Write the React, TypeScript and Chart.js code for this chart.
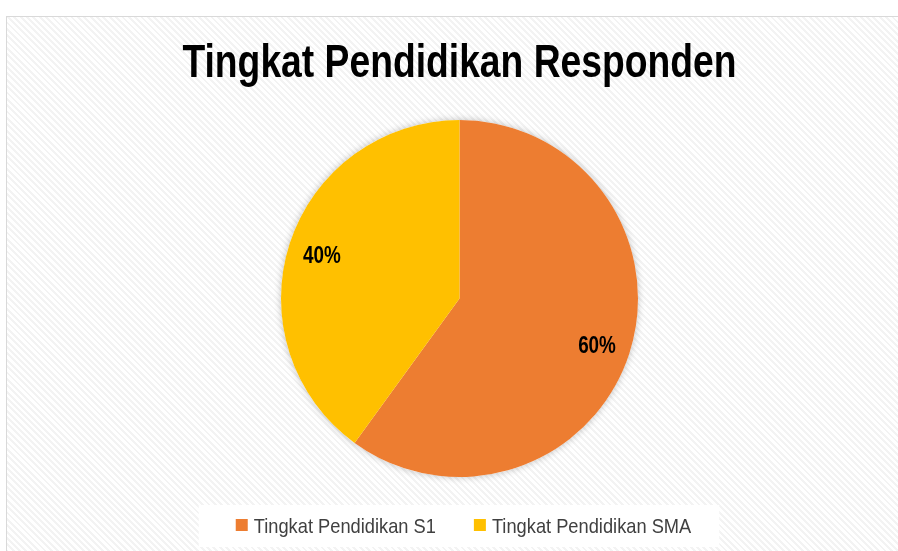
import React, { useEffect, useRef } from "react";
import { Chart, registerables } from "chart.js";

Chart.register(...registerables);

const chartTitle = "Tingkat Pendidikan Responden";
const categories = ["Tingkat Pendidikan S1", "Tingkat Pendidikan SMA"];
const values = [60, 40];
const sliceColors = ["#ED7D31", "#FFC000"];
const valueLabels = ["60%", "40%"];

const FONT = "'Liberation Sans', Arial, sans-serif";

function narrowText(
  ctx: any,
  text: string,
  x: number,
  y: number,
  align: "left" | "center",
  k: number
) {
  const w = ctx.measureText(text).width * k;
  ctx.save();
  ctx.translate(align === "center" ? x - w / 2 : x, y);
  ctx.scale(k, 1);
  ctx.textAlign = "left";
  ctx.fillText(text, 0, 0);
  ctx.restore();
  return w;
}

const pieShadow = {
  id: "pieShadow",
  beforeDatasetsDraw(chart: any) {
    const arc = chart.getDatasetMeta(0).data[0];
    if (!arc) return;
    const { x, y, outerRadius } = arc.getProps(["x", "y", "outerRadius"], true);
    const ctx = chart.ctx;
    ctx.save();
    ctx.shadowColor = "rgba(0,0,0,0.25)";
    ctx.shadowBlur = 7;
    ctx.fillStyle = "#ffffff";
    ctx.beginPath();
    ctx.arc(x, y, outerRadius, 0, Math.PI * 2);
    ctx.fill();
    ctx.restore();
  },
};

const sliceLabels = {
  id: "sliceLabels",
  afterDatasetsDraw(chart: any) {
    const meta = chart.getDatasetMeta(0);
    const ctx = chart.ctx;
    ctx.save();
    ctx.font = `bold 23px ${FONT}`;
    ctx.fillStyle = "#000000";
    ctx.textBaseline = "middle";
    meta.data.forEach((arc: any, i: number) => {
      const { x, y, startAngle, endAngle, outerRadius } = arc.getProps(
        ["x", "y", "startAngle", "endAngle", "outerRadius"],
        true
      );
      const mid = (startAngle + endAngle) / 2;
      const r = outerRadius * 0.81;
      narrowText(ctx, valueLabels[i], x + Math.cos(mid) * r, y + Math.sin(mid) * r + 3, "center", 0.82);
    });
    ctx.restore();
  },
};

const titleAndLegend = {
  id: "titleAndLegend",
  beforeDraw(chart: any) {
    const ctx = chart.ctx;
    const cx = (chart.chartArea.left + chart.chartArea.right) / 2;
    const bottom = chart.chartArea.bottom;

    // title
    ctx.save();
    ctx.font = `bold 46px ${FONT}`;
    ctx.fillStyle = "#000000";
    ctx.textBaseline = "alphabetic";
    narrowText(ctx, chartTitle, cx, 60, "center", 0.81);
    ctx.restore();

    // legend
    const labels = chart.data.labels as string[];
    const colors = chart.data.datasets[0].backgroundColor as string[];
    const k = 0.87;
    ctx.save();
    ctx.font = `21px ${FONT}`;
    const sq = 12;
    const gap = 6;
    const itemGap = 38;
    const widths = labels.map((l) => ctx.measureText(l).width * k);
    const total =
      widths.reduce((a, w) => a + sq + gap + w, 0) + itemGap * (labels.length - 1);
    let x = cx - total / 2 + 4;
    const boxTop = bottom + 28;
    ctx.fillStyle = "#ffffff";
    ctx.fillRect(x - 37, boxTop, total + 37 + 28, 42);
    const sqTop = bottom + 42;
    const baseY = bottom + 56;
    labels.forEach((l, i) => {
      ctx.fillStyle = colors[i];
      ctx.fillRect(x, sqTop, sq, sq);
      ctx.fillStyle = "#404040";
      ctx.textBaseline = "alphabetic";
      narrowText(ctx, l, x + sq + gap, baseY, "left", k);
      x += sq + gap + widths[i] + itemGap;
    });
    ctx.restore();
  },
};

export default function App() {
  const ref = useRef<HTMLCanvasElement>(null);
  useEffect(() => {
    if (!ref.current) return;
    const chart = new Chart(ref.current, {
      type: "pie",
      data: {
        labels: categories,
        datasets: [
          {
            data: values,
            backgroundColor: sliceColors,
            borderWidth: 0,
          },
        ],
      },
      options: {
        animation: false,
        responsive: false,
        maintainAspectRatio: false,
        layout: { padding: { top: 103, bottom: 85, left: 0, right: 0 } },
        plugins: {
          title: { display: false },
          legend: { display: false },
          tooltip: { enabled: false },
        },
      },
      plugins: [pieShadow, sliceLabels, titleAndLegend],
    });
    return () => chart.destroy();
  }, []);

  return (
    <div
      style={{
        position: "absolute",
        left: 6,
        top: 16,
        width: 905,
        height: 545,
        border: "1px solid #d9d9d9",
        background:
          "repeating-linear-gradient(45deg, #ffffff 0px, #ffffff 2.5px, #f3f3f3 2.5px, #f3f3f3 4.5px)",
      }}
    >
      <canvas ref={ref} width={905} height={545} style={{ display: "block" }} />
    </div>
  );
}
